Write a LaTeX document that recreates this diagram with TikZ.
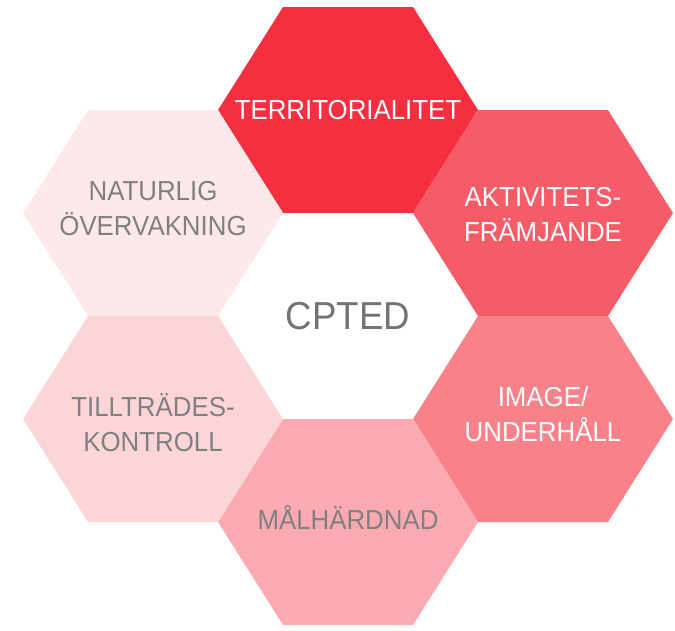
\documentclass[tikz,border=0pt]{standalone}
\usepackage{fontspec}
\setmainfont{Liberation Sans}[FakeStretch=0.94]
\usetikzlibrary{positioning}
\definecolor{hexA}{RGB}{245,47,64}
\definecolor{hexB}{RGB}{246,91,104}
\definecolor{hexC}{RGB}{249,130,138}
\definecolor{hexD}{RGB}{250,170,176}
\definecolor{hexE}{RGB}{252,213,217}
\definecolor{hexF}{RGB}{253,232,234}
\definecolor{txtgray}{RGB}{128,128,128}
\tikzset{
    hexcell/.pic = {\fill[pic actions] (-130,0) -- (-65,103) -- (65,103)
                     -- (130,0) -- (65,-103) -- (-65,-103) -- cycle;},
    hextext/.style = {align = center, font = \fontsize{27.5}{35}\selectfont},
    light/.style   = {hextext, text = white},
    dark/.style    = {hextext, text = txtgray},
}

\begin{document}
\begin{tikzpicture}[x = 1pt, y = -1pt]
    \useasboundingbox (0,0) rectangle (675,630);

    \foreach \x/\y/\col in {348/110/hexA, 543/213/hexB, 543/419/hexC,
                            348/522/hexD, 153/419/hexE, 153/213/hexF}
        \pic [fill = \col] at (\x,\y) {hexcell};

    \node (cpted) at (348,316) [text = txtgray!90!black,
        font = \fontsize{39}{46}\selectfont] {CPTED};
    \node (terr) at (348,110) [light] {TERRITORIALITET};
    \node (akt)  at (543,215) [light] {AKTIVITETS-\\FRÄMJANDE};
    \node (img)  at (543,414) [light] {IMAGE/\\UNDERHÅLL};
    \node (mal)  at (348,517) [dark] {MÅLHÄRDNAD};
    \node (till) at (153,423) [dark] {TILLTRÄDES-\\KONTROLL};
    \node (nat)  at (153,209) [dark] {NATURLIG\\ÖVERVAKNING};
\end{tikzpicture}
\end{document}
